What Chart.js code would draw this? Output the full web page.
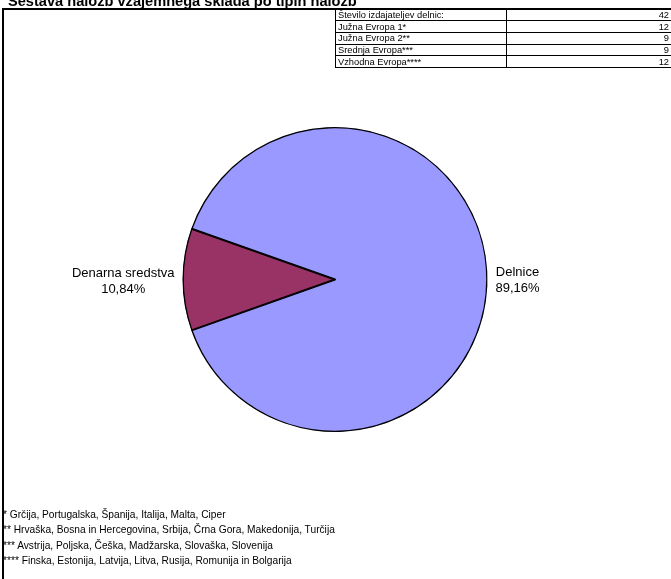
<!DOCTYPE html>
<html>
<head>
<meta charset="utf-8">
<script src="https://cdn.jsdelivr.net/npm/chart.js@4"></script>
<style>
  html, body { margin:0; padding:0; background:#fff; overflow:hidden; }
  #wrap { position:relative; width:671px; height:579px; overflow:hidden; font-family:"Liberation Sans", Arial, sans-serif; }
  #c { position:absolute; left:0; top:0; }
  #title { position:absolute; left:8px; top:-7px; font-weight:bold; font-size:14.6px; white-space:nowrap; color:#000; }
  #frameTop { position:absolute; left:2px; top:8px; width:680px; height:2px; background:#000; }
  #frameLeft { position:absolute; left:2px; top:8px; width:2px; height:600px; background:#000; }
  .cell { position:absolute; box-sizing:border-box; border:1px solid #000; font-size:9.3px; line-height:10px; white-space:nowrap; color:#000; background:#fff; }
  .foot { position:absolute; left:3px; font-size:10.2px; white-space:nowrap; color:#000; }
</style>
</head>
<body>
<div id="wrap">
  <canvas id="c" width="671" height="579"></canvas>
  <div id="frameTop"></div>
  <div id="frameLeft"></div>
  <div id="title"></div>
  <div id="tbl"></div>
  <div id="foots"></div>
</div>
<script>
// ---- data ----
const chartTitle = 'Sestava naložb vzajemnega sklada po tipih naložb';
const pieLabels = ['Delnice', 'Denarna sredstva'];
const pieValues = [89.16, 10.84];
const tableLabels = ['Število izdajateljev delnic:', 'Južna Evropa 1*', 'Južna Evropa 2**', 'Srednja Evropa***', 'Vzhodna Evropa****'];
const tableValues = [42, 12, 9, 9, 12];
const footnotes = [
  '* Grčija, Portugalska, Španija, Italija, Malta, Ciper',
  '** Hrvaška, Bosna in Hercegovina, Srbija, Črna Gora, Makedonija, Turčija',
  '*** Avstrija, Poljska, Češka, Madžarska, Slovaška, Slovenija',
  '**** Finska, Estonija, Latvija, Litva, Rusija, Romunija in Bolgarija'
];

// ---- text parts ----
document.getElementById('title').textContent = chartTitle;

const tbl = document.getElementById('tbl');
const rowH = 11.7, tTop = 8.5, c1 = 335, c2 = 506, c3 = 673;
tableLabels.forEach((lab, i) => {
  const top = tTop + i * rowH;
  const a = document.createElement('div');
  a.className = 'cell';
  a.style.cssText = `left:${c1}px;top:${top}px;width:${c2 - c1 + 1}px;height:${rowH + 1}px;padding-left:2px;padding-top:0.5px;`;
  a.textContent = lab;
  tbl.appendChild(a);
  const b = document.createElement('div');
  b.className = 'cell';
  b.style.cssText = `left:${c2}px;top:${top}px;width:${c3 - c2}px;height:${rowH + 1}px;padding-right:3px;padding-top:0.5px;text-align:right;`;
  b.textContent = String(tableValues[i]);
  tbl.appendChild(b);
});

const foots = document.getElementById('foots');
footnotes.forEach((t, i) => {
  const d = document.createElement('div');
  d.className = 'foot';
  d.style.top = (509 + i * 15.4) + 'px';
  d.textContent = t;
  foots.appendChild(d);
});

// ---- pie ----
const labelPlugin = {
  id: 'outLabels',
  afterDatasetsDraw(chart) {
    const ctx = chart.ctx;
    const meta = chart.getDatasetMeta(0);
    ctx.save();
    ctx.font = '13px "Liberation Sans", Arial, sans-serif';
    ctx.fillStyle = '#000';
    ctx.textBaseline = 'alphabetic';
    ctx.textAlign = 'center';
    meta.data.forEach((arc, i) => {
      const p = arc.getProps(['x', 'y', 'startAngle', 'endAngle', 'outerRadius'], true);
      const mid = (p.startAngle + p.endAngle) / 2;
      const gap = 8;
      const ax = p.x + Math.cos(mid) * (p.outerRadius + gap);
      const ay = p.y + Math.sin(mid) * (p.outerRadius + gap);
      const lines = [pieLabels[i], pieValues[i].toFixed(2).replace('.', ',') + '%'];
      const w = Math.max(...lines.map(l => ctx.measureText(l).width));
      const cx = Math.cos(mid) < 0 ? ax - w / 2 : ax + w / 2;
      ctx.fillText(lines[0], cx, ay - 3);
      ctx.fillText(lines[1], cx, ay + 13);
    });
    ctx.restore();
  }
};

new Chart(document.getElementById('c'), {
  type: 'pie',
  data: {
    labels: pieLabels,
    datasets: [{
      data: pieValues,
      backgroundColor: ['#9999FF', '#993366'],
      borderColor: '#000',
      borderWidth: 1,
      borderAlign: 'inner'
    }]
  },
  options: {
    responsive: false,
    animation: false,
    rotation: -70.5,
    layout: { padding: { left: 182, right: 183, top: 127, bottom: 147 } },
    plugins: { legend: { display: false }, tooltip: { enabled: false }, title: { display: false } }
  },
  plugins: [labelPlugin]
});
</script>
</body>
</html>
